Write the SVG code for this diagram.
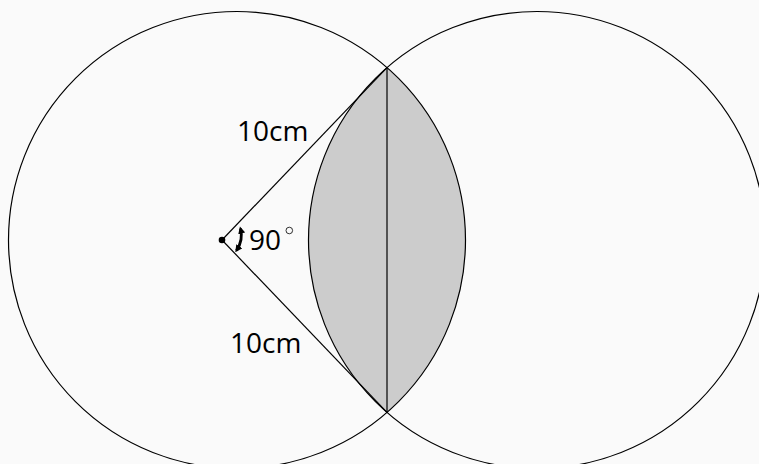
<svg xmlns="http://www.w3.org/2000/svg" width="759" height="464" viewBox="0 0 759 464">
  <style>
    .ln { fill: none; stroke: #000; stroke-width: 1.2; }
    .lbl { font-family: "Open Sans", "Noto Sans", "Liberation Sans", sans-serif; font-size: 28px; fill: #000; }
  </style>
  <defs>
    <marker id="ah" viewBox="0 0 10 10" refX="7" refY="5" markerWidth="2.6" markerHeight="2.6" orient="auto-start-reverse">
      <path d="M0,0 L10,5 L0,10 z" fill="#000"/>
    </marker>
  </defs>
  <rect width="759" height="464" fill="#fafafa"/>
  <g id="lens">
    <path d="M387,67.6 A228.5,228.5 0 0 0 387,412.4 A228.5,228.5 0 0 0 387,67.6 Z" fill="#cccccc" stroke="none"/>
  </g>
  <g id="left-circle">
    <circle cx="237" cy="240" r="228.5" class="ln"/>
  </g>
  <g id="right-circle">
    <circle cx="537" cy="240" r="228.5" class="ln"/>
  </g>
  <g id="connectors">
    <line x1="222" y1="240" x2="387" y2="67.6" class="ln"/>
    <line x1="222" y1="240" x2="387" y2="412.4" class="ln"/>
    <line x1="387" y1="67.6" x2="387" y2="412.4" class="ln" stroke-width="1.5"/>
    <path d="M240.5,228.5 Q243.5,240 236.5,250.5" fill="none" stroke="#000" stroke-width="2.8" marker-start="url(#ah)" marker-end="url(#ah)"/>
  </g>
  <g id="center">
    <circle cx="222" cy="240" r="3.3" fill="#000"/>
  </g>
  <g id="labels">
    <text class="lbl" x="237" y="140.7">10cm</text>
    <text class="lbl" x="230" y="353.3">10cm</text>
    <text class="lbl" x="249" y="250">90</text>
    <circle cx="289.3" cy="230.5" r="3.3" fill="none" stroke="#000" stroke-width="0.8"/>
  </g>
</svg>
